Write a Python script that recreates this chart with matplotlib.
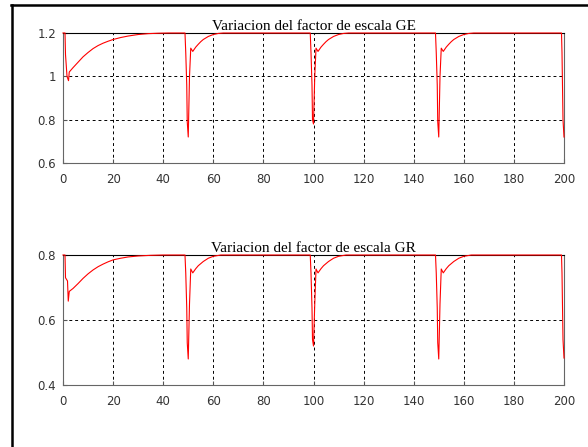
import matplotlib.pyplot as plt
from matplotlib.lines import Line2D

# GE series: time and scale factor
t_ge = [0, 0.8, 1.0, 1.6, 2.2, 2.5, 4, 6, 8, 10, 12, 14, 16, 18, 20, 23, 26, 30, 34, 38, 42,
        48.7, 49.0, 49.4, 49.6, 50.0, 50.5, 51, 51.8, 53, 54, 55, 56, 58, 60, 62, 64,
        98.7, 99.0, 99.4, 99.6, 100.0, 100.5, 101, 101.8, 103, 104, 105, 106, 108, 110, 112, 114,
        148.7, 149.0, 149.4, 149.6, 150.0, 150.5, 151, 151.8, 153, 154, 155, 156, 158, 160, 162, 164,
        199.0, 199.2, 199.6, 200.0]
ge = [1.2, 1.2, 1.1, 1.0, 0.98, 1.02, 1.04, 1.065, 1.09, 1.11, 1.128, 1.142, 1.153, 1.162, 1.17, 1.179, 1.186, 1.193, 1.197, 1.199, 1.2,
      1.2, 1.11, 0.96, 0.79, 0.72, 1.0, 1.13, 1.115, 1.135, 1.148, 1.16, 1.17, 1.184, 1.193, 1.198, 1.2,
      1.2, 1.11, 0.96, 0.8, 0.78, 1.0, 1.13, 1.115, 1.135, 1.148, 1.16, 1.17, 1.184, 1.193, 1.198, 1.2,
      1.2, 1.11, 0.96, 0.79, 0.72, 1.0, 1.13, 1.115, 1.135, 1.148, 1.16, 1.17, 1.184, 1.193, 1.198, 1.2,
      1.2, 1.11, 0.8, 0.72]

# GR series
t_gr = [0, 0.8, 1.0, 1.8, 2.1, 2.5, 4, 6, 8, 10, 12, 14, 16, 18, 20, 23, 26, 30, 35, 40,
        48.7, 49.0, 49.4, 49.6, 50.0, 50.5, 51, 51.8, 53, 54, 56, 58, 60, 63,
        98.7, 99.0, 99.4, 99.6, 100.0, 100.5, 101, 101.8, 103, 104, 106, 108, 110, 113,
        148.7, 149.0, 149.4, 149.6, 150.0, 150.5, 151, 151.8, 153, 154, 156, 158, 160, 163,
        199.0, 199.2, 199.6, 200.0]
gr = [0.8, 0.8, 0.73, 0.72, 0.658, 0.688, 0.697, 0.712, 0.728, 0.742, 0.754, 0.764, 0.772, 0.779, 0.785, 0.79, 0.794, 0.797, 0.799, 0.8,
      0.8, 0.745, 0.637, 0.53, 0.48, 0.65, 0.757, 0.745, 0.758, 0.767, 0.78, 0.79, 0.796, 0.8,
      0.8, 0.745, 0.637, 0.54, 0.52, 0.65, 0.757, 0.745, 0.758, 0.767, 0.78, 0.79, 0.796, 0.8,
      0.8, 0.745, 0.637, 0.53, 0.48, 0.65, 0.757, 0.745, 0.758, 0.767, 0.78, 0.79, 0.796, 0.8,
      0.8, 0.745, 0.54, 0.483]

titles = ['Variacion del factor de escala GE', 'Variacion del factor de escala GR']
yticks_ge = [0.6, 0.8, 1, 1.2]
yticks_gr = [0.4, 0.6, 0.8]
xticks = [0, 20, 40, 60, 80, 100, 120, 140, 160, 180, 200]

fig = plt.figure(figsize=(5.88, 4.47), dpi=100)

# black frame lines on top and left of the screenshot
fig.add_artist(Line2D([11 / 588, 1], [1 - 4.5 / 447, 1 - 4.5 / 447], color='black', lw=1.8))
fig.add_artist(Line2D([11.5 / 588, 11.5 / 588], [0, 1 - 4.5 / 447], color='black', lw=1.8))

ax1 = fig.add_axes([63 / 588, 1 - 163 / 447, 501 / 588, 130 / 447])
ax2 = fig.add_axes([63 / 588, 1 - 385 / 447, 501 / 588, 130 / 447])

for ax, t, y, title, yt in [(ax1, t_ge, ge, titles[0], yticks_ge),
                            (ax2, t_gr, gr, titles[1], yticks_gr)]:
    ax.plot(t, y, color='red', lw=0.8, clip_on=False, zorder=3)
    ax.set_xlim(0, 200)
    ax.set_ylim(yt[0], yt[-1])
    ax.set_xticks(xticks)
    ax.set_yticks(yt)
    ax.set_yticklabels(['%g' % v for v in yt])
    ax.grid(True, color='black', linestyle=(0, (3, 3)), linewidth=0.7)
    ax.tick_params(direction='in', length=3, labelsize=8.5, labelcolor='#333333',
                   color='#555555')
    ax.tick_params(axis='x', pad=7)
    ax.tick_params(axis='y', pad=5)
    for s in ['left', 'bottom', 'right']:
        ax.spines[s].set_color('#666666')
    ax.spines['top'].set_color('black')
    ax.set_title(title, family='Liberation Serif', fontsize=11, pad=2)

fig.savefig('out.png', dpi=100)
